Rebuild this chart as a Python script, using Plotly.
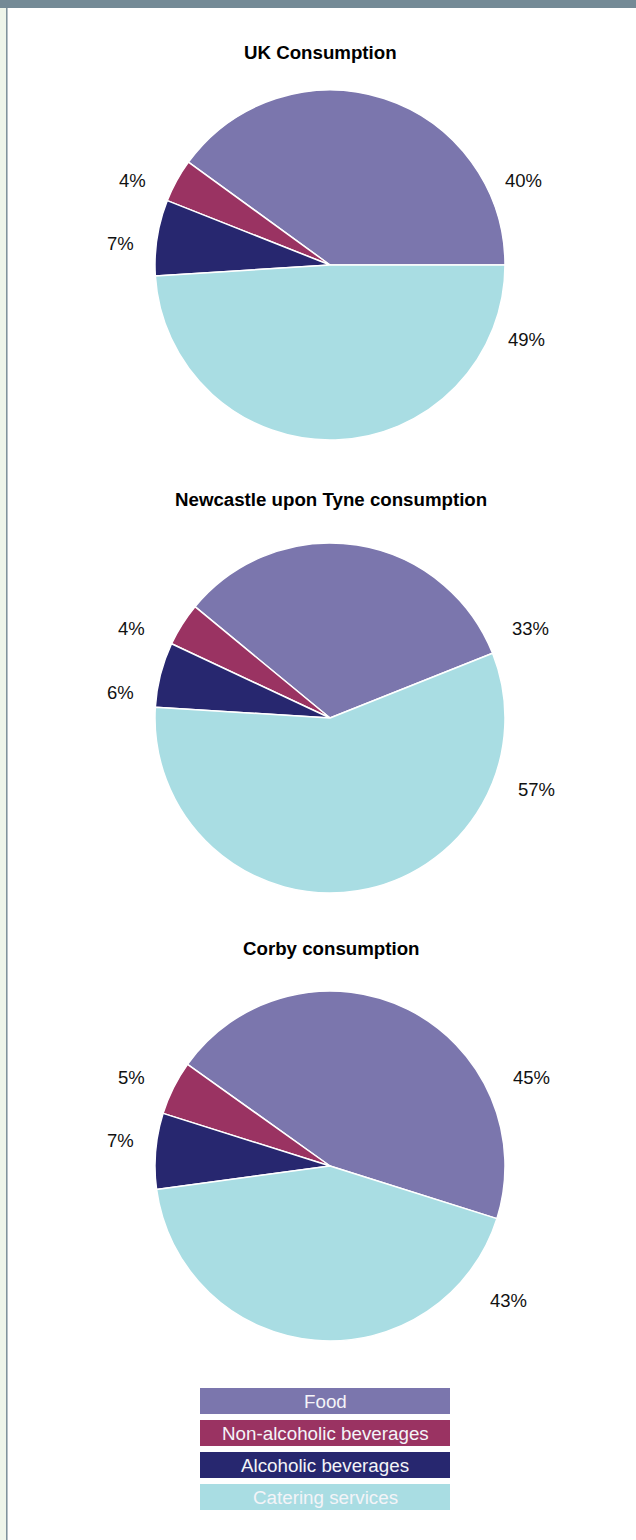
import plotly.graph_objects as go

# ---------------- data ----------------
categories = ["Food", "Non-alcoholic beverages", "Alcoholic beverages", "Catering services"]
uk_values = [40, 4, 7, 49]
newcastle_values = [33, 4, 6, 57]
corby_values = [45, 5, 7, 43]
titles = ["UK Consumption", "Newcastle upon Tyne consumption", "Corby consumption"]
series = [uk_values, newcastle_values, corby_values]

# ---------------- style / layout ----------------
colors = ["#7b76ad", "#9a3362", "#27276f", "#a9dde3"]
W, H = 636, 1540
FONT = "Liberation Sans, Arial, Helvetica, sans-serif"
cx = 330
centers_y = [265, 718, 1166]
R = 175
rotations = [-54, -50.5, -54.5]
title_pos = [(320, 52), (331, 499), (331, 948)]
# label centres (px) per pie, in category order
label_pos = [
    [(523, 180), (132, 181), (120, 243), (526, 340)],
    [(530, 629), (131, 629), (120, 692), (536, 789)],
    [(531, 1077), (131, 1077), (120, 1140), (508, 1300)],
]
legend_x = (200, 450)
legend_top = 1388
legend_h = 26
legend_pitch = 32


def px(x):
    return x / W


def py(y):
    return 1 - y / H


fig = go.Figure()
annotations = []
for i, vals in enumerate(series):
    cy = centers_y[i]
    fig.add_trace(go.Pie(
        labels=categories,
        values=vals,
        sort=False,
        direction="counterclockwise",
        rotation=rotations[i],
        marker=dict(colors=colors, line=dict(color="white", width=1.5)),
        textinfo="none",
        hoverinfo="label+percent",
        domain=dict(x=[px(cx - R), px(cx + R)], y=[py(cy + R), py(cy - R)]),
        showlegend=False,
    ))
    tx, ty = title_pos[i]
    annotations.append(dict(
        x=px(tx), y=py(ty), xref="paper", yref="paper", text="<b>%s</b>" % titles[i],
        showarrow=False, xanchor="center", yanchor="middle",
        font=dict(family=FONT, size=18.7, color="#000000"),
    ))
    for j, v in enumerate(vals):
        lx, ly = label_pos[i][j]
        annotations.append(dict(
            x=px(lx), y=py(ly), xref="paper", yref="paper", text="%d%%" % v,
            showarrow=False, xanchor="center", yanchor="middle",
            font=dict(family=FONT, size=18.5, color="#111111"),
        ))

shapes = [
    # left strip and border
    dict(type="rect", xref="paper", yref="paper", x0=0, x1=px(6), y0=0, y1=1,
         fillcolor="#eef5ea", line=dict(width=0), layer="below"),
    dict(type="line", xref="paper", yref="paper", x0=px(6.8), x1=px(6.8), y0=0, y1=1,
         line=dict(color="#7a8e98", width=1.5)),
    # top bar
    dict(type="rect", xref="paper", yref="paper", x0=0, x1=1, y0=py(8), y1=1,
         fillcolor="#748a96", line=dict(width=0)),
]

# legend boxes
for k, name in enumerate(categories):
    top = legend_top + k * legend_pitch
    shapes.append(dict(type="rect", xref="paper", yref="paper",
                       x0=px(legend_x[0]), x1=px(legend_x[1]),
                       y0=py(top + legend_h), y1=py(top),
                       fillcolor=colors[k], line=dict(width=0)))
    annotations.append(dict(
        x=px((legend_x[0] + legend_x[1]) / 2), y=py(top + legend_h / 2),
        xref="paper", yref="paper", text=name, showarrow=False,
        xanchor="center", yanchor="middle",
        font=dict(family=FONT, size=18.8, color="#f4f4f8"),
    ))

fig.update_layout(
    width=W, height=H,
    margin=dict(l=0, r=0, t=0, b=0),
    paper_bgcolor="white", plot_bgcolor="white",
    showlegend=False,
    shapes=shapes,
    annotations=annotations,
    font=dict(family=FONT),
)

fig.write_html("out.html")
